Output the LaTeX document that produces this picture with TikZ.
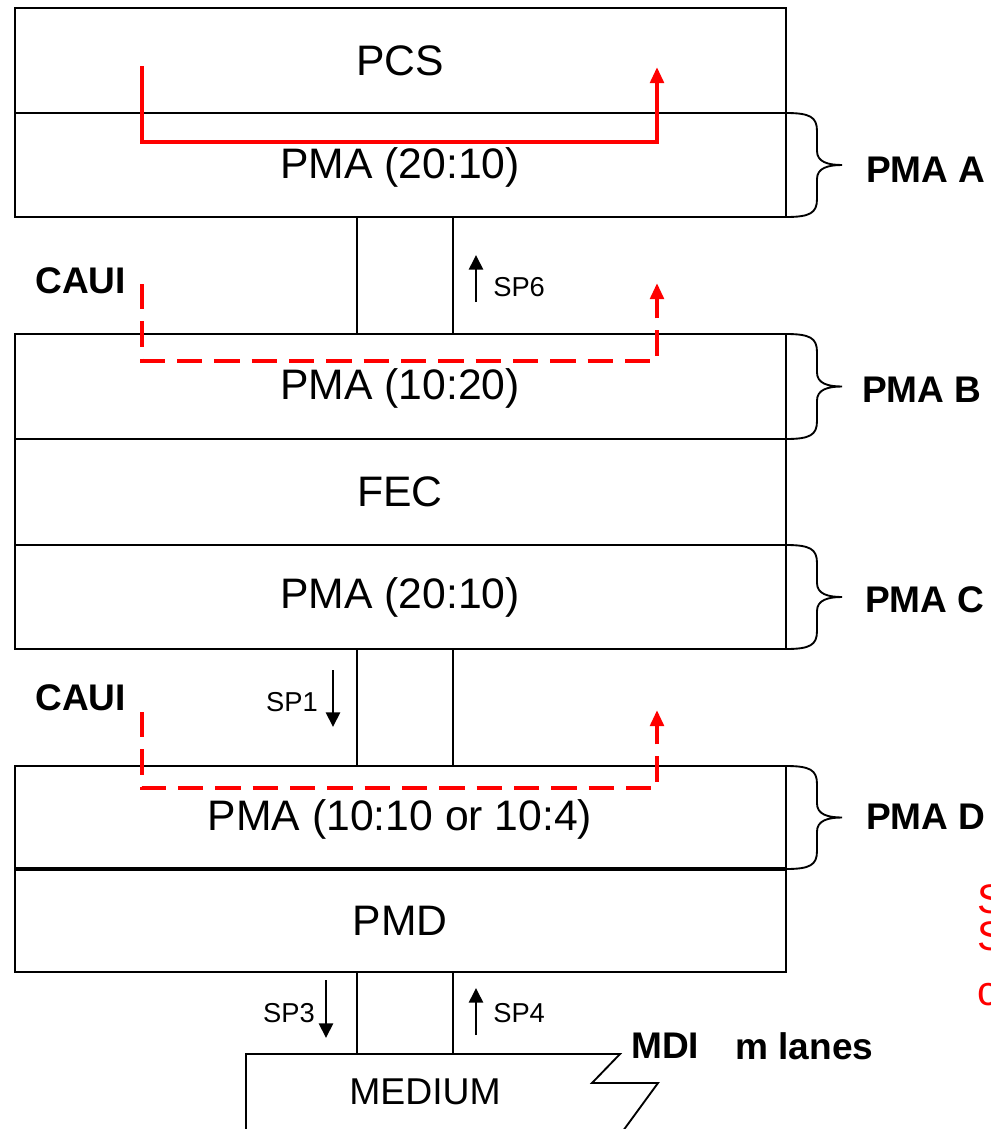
\documentclass[tikz,border=0pt]{standalone}
\usepackage{fontspec}
\setmainfont{Liberation Sans}
\usetikzlibrary{arrows.meta}
\newcommand\mybrace[2]{%
  \draw[bracestyle] (786,#1) .. controls (810,#1) and (817,{#1+4}) .. (817,{#1+18})
    -- (817,{(#1+#2)/2-14}) .. controls (817,{(#1+#2)/2-3}) and (828,{(#1+#2)/2}) .. (842,{(#1+#2)/2})
    .. controls (828,{(#1+#2)/2}) and (817,{(#1+#2)/2+3}) .. (817,{(#1+#2)/2+14})
    -- (817,{#2-18}) .. controls (817,{#2-4}) and (810,#2) .. (786,#2);}
\begin{document}
\begin{tikzpicture}[x=0.75pt,y=-0.75pt,
  box/.style={draw=black,line width=1.4pt},
  big/.style={font=\fontsize{32}{38}\selectfont, inner sep=0},
  med/.style={font=\fontsize{28}{34}\selectfont, inner sep=0},
  lbl/.style={font=\bfseries\fontsize{27.8}{33}\selectfont, inner sep=0, anchor=west},
  small/.style={font=\fontsize{20.5}{24}\selectfont, inner sep=0},
  redtxt/.style={font=\fontsize{31}{36}\selectfont, inner sep=0, anchor=base west, text=red},
  bracestyle/.style={draw=black,line width=1.4pt},
  redpath/.style={draw=red, line width=3.2pt, -{Triangle[length=12pt,width=10pt]}},
  reddash/.style={redpath, dash pattern=on 19pt off 9pt},
  sparrow/.style={draw=black, line width=2pt, -{Triangle[length=11pt,width=10.5pt]}}
]
\useasboundingbox (0,0) rectangle (990,1129);

% stack A
\draw[box] (15,8) rectangle (786,217);
\draw[box] (15,113) -- (786,113);
\node[big] (pcs) at (400,61) {PCS};
\node[big] (pmaa) at (400,167) {PMA (20:10)};

% CAUI link 1
\draw[box] (357,217) rectangle (453,334);

% stack B/C
\draw[box] (15,334) rectangle (786,649);
\draw[box] (15,439) -- (786,439);
\draw[box] (15,545) -- (786,545);
\node[big] (pmab) at (400,388) {PMA (10:20)};
\node[big] (fec) at (400,492) {FEC};
\node[big] (pmac) at (400,597) {PMA (20:10)};

% CAUI link 2
\draw[box] (357,649) rectangle (453,766);

% stack D
\draw[box] (15,766) rectangle (786,972);
\draw[draw=black,line width=2.3pt] (15,869) -- (786,869);
\node[big] (pmad) at (400,819) {PMA (10:10 or 10:4)};
\node[big] (pmd) at (400,921) {PMD};

% MDI link
\draw[box] (357,972) rectangle (453,1054);

% medium
\draw[box] (246,1135) -- (246,1054) -- (620,1054) -- (592,1083) -- (658,1083) -- (620,1135);
\node[med] (medium) at (425,1092) {MEDIUM};

% braces
\mybrace{113}{217}
\mybrace{334}{439}
\mybrace{545}{649}
\mybrace{766}{869}
\node[lbl] (laba) at (866,170) {PMA A};
\node[lbl] (labb) at (862,390) {PMA B};
\node[lbl] (labc) at (865,600) {PMA C};
\node[lbl] (labd) at (866,817) {PMA D};

% side labels
\node[lbl] (caui1) at (35,281) {CAUI};
\node[lbl] (caui2) at (35,698) {CAUI};
\node[lbl] (mdi) at (631,1046) {MDI};
\node[lbl] (mlanes) at (735,1046) {m lanes};

% SP labels and arrows
\node[small, anchor=west] (sp6) at (493,287) {SP6};
\coordinate (sp6a) at (476,302);
\coordinate (sp6b) at (476,255);
\draw[sparrow] (sp6a) -- (sp6b);

\node[small, anchor=east] (sp1) at (318,702) {SP1};
\coordinate (sp1a) at (333,670);
\coordinate (sp1b) at (333,727);
\draw[sparrow] (sp1a) -- (sp1b);

\node[small, anchor=east] (sp3) at (315,1013) {SP3};
\coordinate (sp3a) at (326,980);
\coordinate (sp3b) at (326,1038);
\draw[sparrow] (sp3a) -- (sp3b);

\node[small, anchor=west] (sp4) at (493,1013) {SP4};
\coordinate (sp4a) at (476,1035);
\coordinate (sp4b) at (476,988);
\draw[sparrow] (sp4a) -- (sp4b);

% red paths
\coordinate (r1s) at (142,66);
\coordinate (r1e) at (657,67);
\draw[redpath] (r1s) -- (142,142) -- (657,142) -- (r1e);

\coordinate (r2s) at (142,284);
\coordinate (r2e) at (657,283);
\draw[reddash] (r2s) -- (142,361) -- (657,361) -- (r2e);

\coordinate (r3s) at (142,712);
\coordinate (r3e) at (657,710);
\draw[reddash] (r3s) -- (142,788) -- (657,788) -- (r3e);

% clipped red text at right edge
\node[redtxt] (rt1) at (977,913) {S};
\node[redtxt] (rt2) at (977,950) {S};
\node[redtxt] (rt3) at (977,1005) {c};
\end{tikzpicture}
\end{document}
